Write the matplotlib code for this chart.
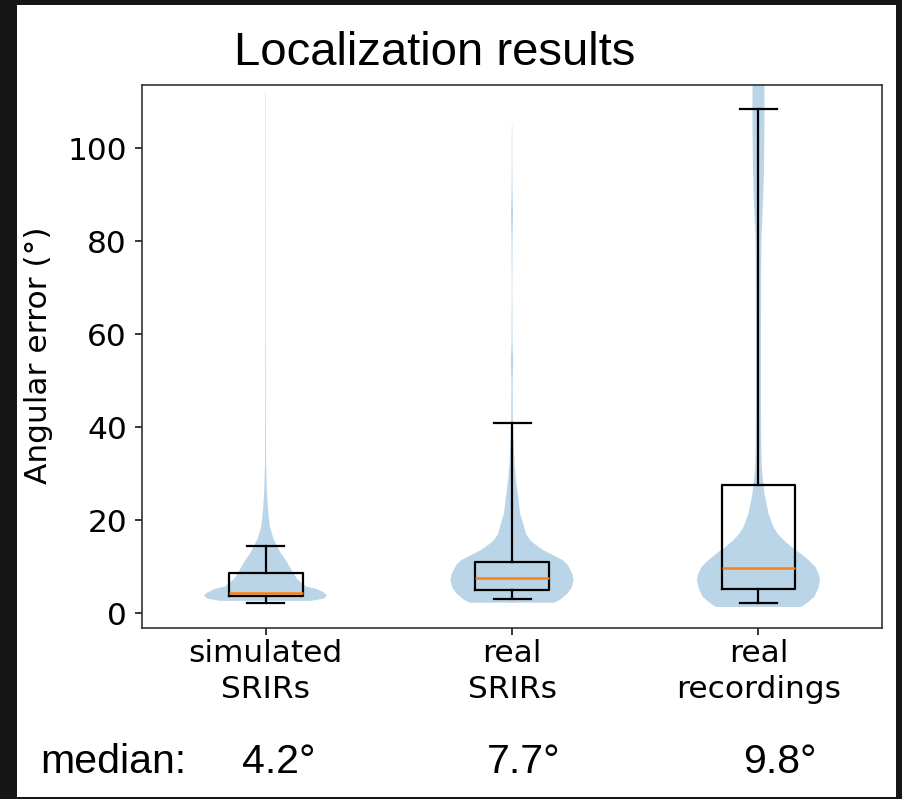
import numpy as np
import matplotlib.pyplot as plt
from matplotlib.patches import Rectangle

# groups and labels
labels = ['simulated\nSRIRs', 'real\nSRIRs', 'real\nrecordings']
median_text = ['4.2°', '7.7°', '9.8°']

# box stats (degrees)
box_q1 = [3.7, 5.0, 5.3]
box_med = [4.3, 7.6, 9.8]
box_q3 = [8.8, 11.1, 27.7]
whis_lo = [2.2, 3.1, 2.2]
whis_hi = [14.4, 41.0, 108.5]

# violin outlines: y value and relative half width
sim_y = [2.7, 3.2, 3.9, 4.6, 5.3, 5.8, 6.5, 7.5, 8.8, 10.0, 11.5, 13.0, 14.3,
         16.0, 18.5, 21.0, 24.0, 27.0, 32.0, 40.0, 60.0, 90.0, 112.0]
sim_w = [45, 58, 61, 57, 50, 40, 36, 31, 27, 24, 20, 15, 12,
         8, 4.5, 3, 2, 1.2, 0.6, 0.4, 0.3, 0.25, 0.2]

srir_y = [2.3, 3.0, 4.3, 5.5, 7.2, 8.3, 9.3, 10.5, 11.5, 12.5, 13.6, 15.0,
          15.8, 17.0, 18.6, 21.5, 25.1, 28.5, 32.3, 37.0, 42.0, 50.0, 54.0,
          58.0, 70.0, 80.0, 86.0, 92.0, 105.0]
srir_w = [42, 48, 55, 59, 61, 60, 58, 55, 50, 41, 31, 22,
          18, 14, 12, 8, 6, 4, 2.5, 1.5, 0.8, 0.6, 1.2,
          0.5, 0.3, 0.5, 1.0, 0.4, 0.2]

rec_y = [1.4, 2.5, 3.6, 5.5, 7.2, 8.7, 10.0, 11.5, 12.9, 14.3, 15.8, 17.2,
         18.6, 21.5, 25.8, 28.7, 31.0, 35.0, 45.0, 60.0, 75.0, 81.0, 88.0,
         95.0, 105.0, 113.0, 116.0]
rec_w = [43, 50, 56, 60, 61.7, 60, 57, 50, 42, 33, 25, 19,
         15, 10, 6, 4.5, 3.5, 2.8, 2.5, 2.5, 2.7, 3, 4.5,
         5.5, 6, 6, 5.5]

violin_y = [sim_y, srir_y, rec_y]
violin_w = [sim_w, srir_w, rec_w]
positions = [1, 2, 3]

vpstats = []
for yy, ww, med in zip(violin_y, violin_w, box_med):
    vpstats.append(dict(coords=np.array(yy), vals=np.array(ww, dtype=float),
                        mean=med, median=med, min=yy[0], max=yy[-1]))

bxpstats = []
for i in range(3):
    bxpstats.append(dict(med=box_med[i], q1=box_q1[i], q3=box_q3[i],
                         whislo=whis_lo[i], whishi=whis_hi[i], fliers=[]))

fig = plt.figure(figsize=(9.02, 7.99), dpi=100, facecolor='#161616')
fig.patches.append(Rectangle((0.0189, 0.0025), 0.9745, 0.9912, transform=fig.transFigure,
                             facecolor='white', edgecolor='none', zorder=-10))

ax = fig.add_axes([0.1578, 0.2136, 0.8197, 0.68])
ax.set_zorder(5)

ax.violin(vpstats, positions=positions, widths=0.5, showextrema=False)
ax.bxp(bxpstats, positions=positions, widths=0.3, showfliers=False,
       boxprops=dict(color='black', linewidth=1.6),
       whiskerprops=dict(color='black', linewidth=1.6),
       capprops=dict(color='black', linewidth=1.6),
       medianprops=dict(color='#ff7f0e', linewidth=1.8))

ax.set_xlim(0.5, 3.5)
ax.set_ylim(-3.2, 113.6)
ax.set_yticks([0, 20, 40, 60, 80, 100])
ax.set_xticks(positions)
ax.set_xticklabels(labels, fontsize=22.5, family='DejaVu Sans', linespacing=1.3)
ax.tick_params(axis='y', labelsize=22.5, length=5, width=1.1, pad=6)
ax.tick_params(axis='x', length=5, width=1.1, pad=3)
for s in ax.spines.values():
    s.set_color('#333333')
    s.set_linewidth(1.2)

fig.text(0.0432, 0.5557, 'Angular error (°)', rotation=90, ha='center', va='center',
         fontsize=22.5, family='DejaVu Sans')

fig.text(0.4823, 0.9186, 'Localization results', ha='center', va='baseline',
         fontsize=34, family='Liberation Sans')

fig.text(0.0451, 0.0322, 'median:', ha='left', va='baseline', fontsize=29.5,
         family='Liberation Sans')
for px, t in zip([279, 523.5, 779.5], median_text):
    fig.text(px / 902, 0.0322, t, ha='center', va='baseline', fontsize=29.5,
             family='Liberation Sans')

fig.savefig('out.png', dpi=100, facecolor=fig.get_facecolor())
